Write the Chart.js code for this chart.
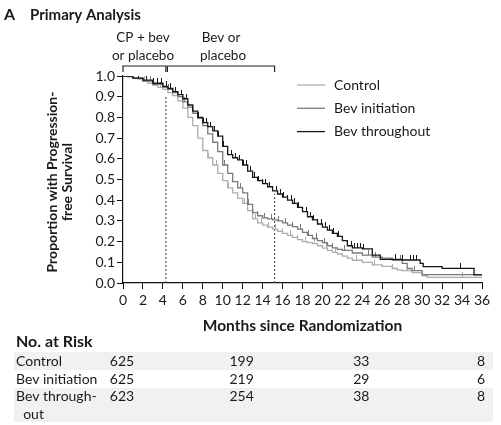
<!DOCTYPE html>
<html><head><meta charset="utf-8">
<script src="https://cdn.jsdelivr.net/npm/chart.js@4.4.1/dist/chart.umd.min.js"></script>
<style>html,body{margin:0;padding:0;background:#fff;}#wrap{width:501px;height:425px;}</style>
</head><body><div id="wrap"><canvas id="c" width="501" height="425"></canvas></div>
<script>
const FONT = 'Lato, "Open Sans", sans-serif';
const seriesNames = ['Control', 'Bev initiation', 'Bev throughout'];
const seriesColors = ['#adadad', '#7a7a7a', '#161616'];

const controlMonths = [0,0.5,1,1.5,2,2.5,3,3.5,4,4.5,5,5.5,6,6.5,7,7.5,8,8.5,9,9.5,10,10.5,11,11.5,12,12.5,13,13.5,14,14.5,15,15.5,16,16.5,17,17.5,18,18.5,19,19.5,20,20.5,21,21.5,22,22.5,23,24,25,26,27,27.5,28,29,30,30.5,36];
const controlSurv   = [1,0.995,0.99,0.985,0.975,0.965,0.955,0.945,0.935,0.92,0.905,0.88,0.845,0.80,0.76,0.70,0.64,0.605,0.57,0.53,0.495,0.46,0.435,0.41,0.385,0.35,0.31,0.29,0.28,0.27,0.26,0.25,0.24,0.23,0.22,0.21,0.20,0.195,0.19,0.18,0.168,0.158,0.148,0.14,0.13,0.12,0.11,0.10,0.088,0.08,0.07,0.063,0.06,0.05,0.035,0.027,0.027];

const bevInitMonths = [0,1,2,3,4,4.5,5,5.5,6,6.5,7,7.5,8,8.5,9,9.5,10,10.5,11,11.5,12,12.5,13,13.5,14,14.5,15,15.5,16,16.5,17,17.5,18,18.5,19,19.5,20,20.5,21,21.5,22,23,24,25,26,27,28,28.5,29,30,36];
const bevInitSurv   = [1,0.99,0.975,0.96,0.945,0.935,0.92,0.90,0.875,0.85,0.82,0.795,0.76,0.72,0.68,0.635,0.57,0.53,0.49,0.46,0.435,0.38,0.34,0.325,0.315,0.31,0.305,0.30,0.29,0.28,0.272,0.26,0.245,0.23,0.215,0.205,0.195,0.18,0.17,0.162,0.158,0.145,0.135,0.125,0.12,0.11,0.095,0.07,0.06,0.04,0.035];

const bevThruMonths = [0,1,2,3,4,4.5,5,5.5,6,6.5,7,7.5,8,8.5,9,9.5,10,10.5,11,11.5,12,12.5,13,13.5,14,14.5,15,15.5,16,16.5,17,17.5,18,18.5,19,19.5,20,20.5,21,21.5,22,22.5,23,24,25,25.8,28,29.8,30.1,32,35.2,36];
const bevThruSurv   = [1,0.99,0.98,0.965,0.95,0.94,0.925,0.91,0.89,0.86,0.83,0.80,0.775,0.755,0.735,0.71,0.66,0.62,0.605,0.595,0.57,0.54,0.51,0.495,0.48,0.465,0.445,0.43,0.415,0.40,0.385,0.365,0.345,0.32,0.305,0.285,0.27,0.255,0.24,0.225,0.205,0.18,0.17,0.165,0.135,0.114,0.111,0.095,0.079,0.071,0.039,0.039];

const controlCensor = [2.2,3.8,5.0,8.6,9.4,10.6,12.2,13.3,13.9,14.6,15.3,16.0,16.8,17.5,18.3,19.2,20.4,21.3,23.4,25.2,27.0,28.5,34.0];
const bevInitCensor = [2.8,4.6,6.2,9.0,10.2,11.8,12.6,13.5,14.2,14.9,15.6,16.3,17.0,17.8,18.6,19.4,20.2,21.0,22.2,24.6,25.3,27.8,29.2];
const bevThruCensor = [1.6,2.4,3.1,3.5,3.9,4.4,4.8,5.3,5.9,6.4,7.0,7.6,8.1,8.4,8.8,9.2,9.6,10.1,10.5,10.9,11.3,11.7,12.1,12.4,12.8,13.2,13.6,14.0,14.3,14.7,15.0,15.4,15.8,16.1,16.5,16.9,17.2,17.6,18.0,18.4,18.8,19.1,19.5,19.9,20.3,20.7,21.1,21.6,22.9,23.2,23.5,23.8,24.1,25.0,27.3,28.0,28.8,29.1,29.4,33.8];

const phaseMonths = [4.3, 15.2];
const phaseTop = [0.90, 0.43];
const phaseLabels = [['CP + bev','or placebo'], ['Bev or','placebo']];
const phaseStart = [0, 4.45];

const riskMonths = [0, 12, 24, 36];
const riskLabels = [['Control'], ['Bev initiation'], ['Bev through-', '  out']];
const riskControl = [625, 199, 33, 8];
const riskBevInit = [625, 219, 29, 6];
const riskBevThru = [623, 254, 38, 8];
const riskRows = [riskControl, riskBevInit, riskBevThru];

function survAt(ms, ss, t) {
  let v = ss[0];
  for (let i = 0; i < ms.length; i++) { if (ms[i] <= t) v = ss[i]; else break; }
  return v;
}
function tickImg(color) {
  const c = document.createElement('canvas');
  c.width = 1; c.height = 10;
  const g = c.getContext('2d');
  g.fillStyle = color; g.fillRect(0, 0, 1, 5);
  return c;
}

const curves = [[controlMonths, controlSurv, controlCensor], [bevInitMonths, bevInitSurv, bevInitCensor], [bevThruMonths, bevThruSurv, bevThruCensor]];
const datasets = [];
curves.forEach((c, k) => {
  datasets.push({
    type: 'line', label: seriesNames[k],
    data: c[0].map((m, i) => ({x: m, y: c[1][i]})),
    stepped: true, borderColor: seriesColors[k], borderWidth: 1.3,
    pointRadius: 0, fill: false, order: 3 - k
  });
});
curves.forEach((c, k) => {
  datasets.push({
    type: 'scatter', label: seriesNames[k] + ' censored',
    data: c[2].map(t => ({x: t, y: survAt(c[0], c[1], t)})),
    pointStyle: tickImg(seriesColors[k]), pointRadius: 2, order: 3 - k
  });
});
phaseMonths.forEach((m, i) => {
  datasets.push({
    type: 'line', label: 'phase' + i,
    data: [{x: m, y: 0}, {x: m, y: phaseTop[i]}],
    borderColor: '#555', borderWidth: 1.2, borderDash: [2, 2],
    pointRadius: 0, fill: false, order: 10
  });
});

const annot = {
  id: 'annot',
  beforeDraw(chart) {
    const ctx = chart.ctx;
    ctx.save();
    ctx.fillStyle = '#fff'; ctx.fillRect(0, 0, chart.width, chart.height);
    ctx.fillStyle = '#f1f1f1';
    ctx.fillRect(14, 352, 479, 18);
    ctx.fillRect(14, 388, 479, 34);
    ctx.restore();
  },
  afterDraw(chart) {
    const ctx = chart.ctx, xs = chart.scales.x;
    ctx.save();
    ctx.fillStyle = '#1a1a1a';
    ctx.textBaseline = 'alphabetic';
    // title
    ctx.textAlign = 'left';
    ctx.font = 'bold 16px ' + FONT;
    ctx.fillText('A', 4, 20);
    ctx.font = 'bold 15px ' + FONT;
    ctx.fillText('Primary Analysis', 30, 20);
    // phase brackets
    ctx.font = '13.5px ' + FONT;
    ctx.textAlign = 'center';
    ctx.strokeStyle = '#222'; ctx.lineWidth = 1.2;
    phaseMonths.forEach((m, i) => {
      const x0 = xs.getPixelForValue(phaseStart[i]), x1 = xs.getPixelForValue(m);
      ctx.beginPath();
      ctx.moveTo(x0, 72); ctx.lineTo(x0, 66); ctx.lineTo(x1, 66); ctx.lineTo(x1, 72);
      ctx.stroke();
    });
    ctx.fillText(phaseLabels[0][0], 143, 42);
    ctx.fillText(phaseLabels[0][1], 143, 60);
    ctx.fillText(phaseLabels[1][0], 221, 42);
    ctx.fillText(phaseLabels[1][1], 223, 60);
    // legend
    ctx.textAlign = 'left'; ctx.textBaseline = 'middle';
    ctx.font = '14px ' + FONT;
    seriesNames.forEach((n, k) => {
      const y = 85 + k * 23.3;
      ctx.strokeStyle = seriesColors[k]; ctx.lineWidth = 1.3;
      ctx.beginPath(); ctx.moveTo(297, y); ctx.lineTo(325, y); ctx.stroke();
      ctx.fillStyle = '#1a1a1a';
      ctx.fillText(n, 334, y);
    });
    // y title
    ctx.font = 'bold 14px ' + FONT;
    ctx.textAlign = 'center'; ctx.textBaseline = 'middle';
    ctx.save();
    ctx.translate(52, 182); ctx.rotate(-Math.PI / 2);
    ctx.fillText('Proportion with Progression-', 0, 0);
    ctx.fillText('free Survival', 0, 15);
    ctx.restore();
    // x title
    ctx.textBaseline = 'alphabetic';
    ctx.font = 'bold 15.5px ' + FONT;
    ctx.fillText('Months since Randomization', (xs.left + xs.right) / 2, 331);
    // risk table
    ctx.textAlign = 'left';
    ctx.font = 'bold 16px ' + FONT;
    ctx.fillText('No. at Risk', 16, 347);
    ctx.font = '14px ' + FONT;
    const base = [365.5, 383.5, 401];
    riskLabels.forEach((lab, r) => {
      ctx.textAlign = 'left';
      ctx.fillText(lab[0], 16, base[r]);
      if (lab[1]) ctx.fillText(lab[1], 16, base[r] + 17.5);
      ctx.textAlign = 'center';
      riskRows[r].forEach((v, j) => {
        ctx.fillText(String(v), xs.getPixelForValue(riskMonths[j]) - 1, base[r]);
      });
    });
    ctx.restore();
  }
};

new Chart(document.getElementById('c'), {
  data: {datasets},
  options: {
    responsive: false, animation: false,
    layout: {padding: {top: 76, right: 19, left: 0, bottom: 0}},
    plugins: {legend: {display: false}, tooltip: {enabled: false}},
    scales: {
      x: {
        type: 'linear', min: 0, max: 36,
        afterFit(s) { s.height = 142; },
        ticks: {stepSize: 2, autoSkip: false, maxRotation: 0, color: '#1a1a1a', padding: 3,
                font: {family: FONT, size: 14}},
        grid: {drawOnChartArea: false, tickLength: 6, color: '#111', lineWidth: 1},
        border: {color: '#111', width: 1.2}
      },
      y: {
        type: 'linear', min: 0, max: 1,
        afterFit(s) { s.width = 123; },
        ticks: {stepSize: 0.1, color: '#1a1a1a', padding: 2, callback: v => v.toFixed(1),
                font: {family: FONT, size: 14}},
        grid: {drawOnChartArea: false, tickLength: 6, color: '#111', lineWidth: 1},
        border: {color: '#111', width: 1.2}
      }
    }
  },
  plugins: [annot]
});
</script>
</body></html>
